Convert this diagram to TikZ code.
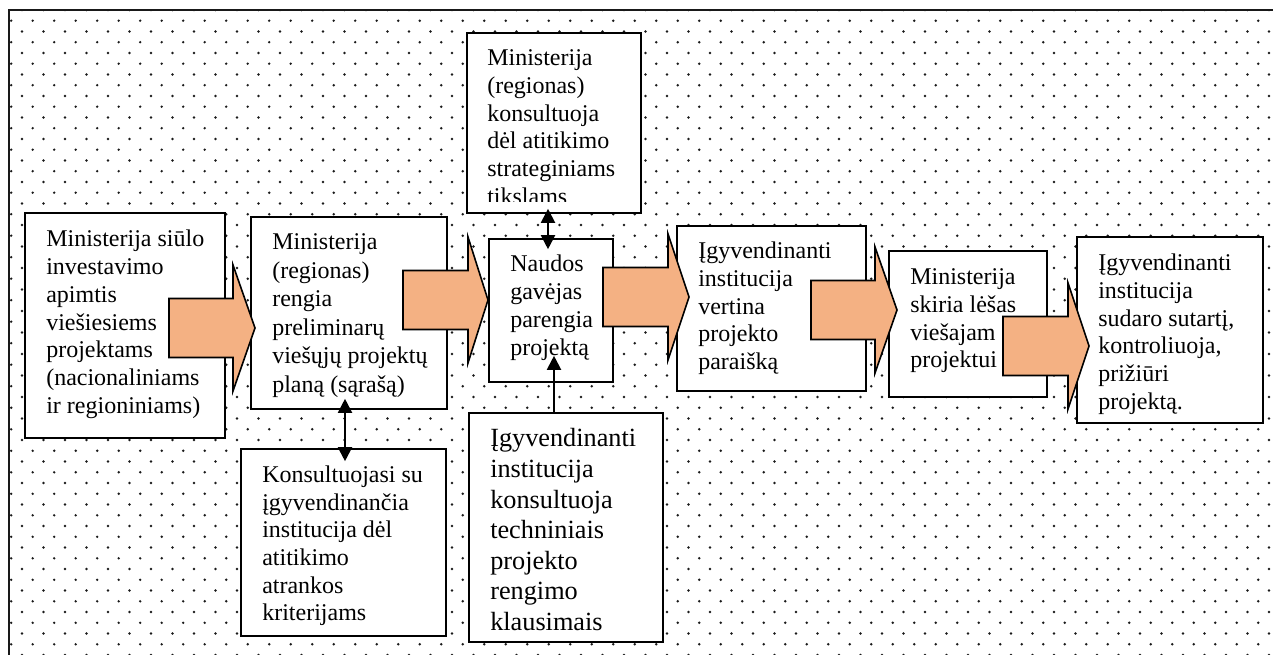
\documentclass[tikz,border=0pt]{standalone}
\usepackage{fontspec}
\setmainfont{Liberation Serif}
\usetikzlibrary{arrows.meta,fit}
\definecolor{peach}{RGB}{244,177,131}
\tikzset{
  box/.style={draw=black, fill=white, line width=1.2pt, inner sep=0pt},
  txt/.style={anchor=north west, inner sep=0pt, align=left, font=\fontsize{18pt}{20.8pt}\selectfont},
  txtwide/.style={txt, font=\fontsize{18pt}{21.4pt}\selectfont},
  bigtxt/.style={txt, font=\fontsize{19.7pt}{22.9pt}\selectfont},
  barrow/.style={draw=black, fill=peach, line width=1.2pt, line join=miter},
  link/.style={line width=1.5pt, -{Triangle[length=10.5pt,width=10.5pt]}},
  dlink/.style={line width=1.5pt, {Triangle[length=10.5pt,width=10.5pt]}-{Triangle[length=10.5pt,width=10.5pt]}},
  dots/.style={fill=black!90},
  frame/.style={line width=1.5pt, draw=black!90},
}
\newcommand{\st}{\rule{0pt}{0.75em}}
\newcommand{\blockarr}[4]{%
  \draw[barrow] (#1,#4-29.5) -- (#2,#4-29.5) -- (#2,#4-63) -- (#3,#4)
    -- (#2,#4+63) -- (#2,#4+29.5) -- (#1,#4+29.5) -- cycle;}
\begin{document}
\begin{tikzpicture}[x=0.75pt,y=-0.75pt]
\useasboundingbox (0,0) rectangle (1273,655);
% dotted background
\begin{scope}
  \clip (9,10) rectangle (1273,655);
  \foreach \j in {0,...,60} {
    \pgfmathsetmacro{\xo}{0.5+10.7*mod(\j,2)}
    \pgfmathsetmacro{\yy}{10+10.75*\j}
    \fill[dots] \foreach \i in {0,...,59} {
        ({\xo+21.5*\i},\yy) circle (1.3)
      };
  }
\end{scope}
\draw[frame] (1274,10) -- (9,10) -- (9,656);

% boxes
\node[box, fit={(25,213) (225,438)}] (A) {};
\node[txt] (At) at (46,228.7) {\st Ministerija siūlo\\investavimo\\apimtis\\viešiesiems\\projektams\\(nacionaliniams\\ir regioniniams)};

\node[box, fit={(251,217) (447,409)}] (B) {};
\node[txtwide] (Bt) at (272,231.5) {\st Ministerija\\(regionas)\\rengia\\preliminarų\\viešųjų projektų\\planą (sąrašą)};

\node[box, fit={(467,33) (641,213)}] (D) {};
\begin{scope}
  \clip (467,33) rectangle (641,202);
  \node[txt] (Dt) at (487,47.3) {\st Ministerija\\(regionas)\\konsultuoja\\dėl atitikimo\\strateginiams\\tikslams};
\end{scope}

\node[box, fit={(489,239) (613,382)}] (C) {};
\node[txt] (Ct) at (510,253.7) {\st Naudos\\gavėjas\\parengia\\projektą};

\node[box, fit={(677,226) (866,391)}] (E) {};
\node[txt] (Et) at (698,240.3) {\st Įgyvendinanti\\institucija\\vertina\\projekto\\paraišką};

\node[box, fit={(889,251) (1047,397)}] (F) {};
\node[txt] (Ft) at (910,266.5) {\st Ministerija\\skiria lėšas\\viešajam\\projektui};

\node[box, fit={(1077,237) (1263,423)}] (G) {};
\node[txt] (Gt) at (1098,252.5) {\st Įgyvendinanti\\institucija\\sudaro sutartį,\\kontroliuoja,\\prižiūri\\projektą.};

\node[box, fit={(241,449) (446,636)}] (H) {};
\node[txt] (Ht) at (262,464) {\st Konsultuojasi su\\įgyvendinančia\\institucija dėl\\atitikimo\\atrankos\\kriterijams};

\node[box, fit={(469,413) (663,642)}] (I) {};
\node[bigtxt] (It) at (490,427) {\st Įgyvendinanti\\institucija\\konsultuoja\\techniniais\\projekto\\rengimo\\klausimais};

% block arrows
\blockarr{169}{233}{255}{328}
\blockarr{403}{468}{488}{300}
\blockarr{603}{668}{689}{297}
\blockarr{811}{875}{897}{310}
\blockarr{1003}{1068}{1089}{346}

% thin connectors
\coordinate (dcx) at (548,0);
\coordinate (bhx) at (345,0);
\coordinate (icx) at (554,0);
\draw[dlink] ([yshift=3.75pt]D.south -| dcx) -- ([yshift=-8.25pt]C.north -| dcx);
\draw[dlink] ([yshift=8.25pt]B.south -| bhx) -- ([yshift=-9.75pt]H.north -| bhx);
\draw[link] (I.north -| icx) -- ([yshift=20.25pt]C.south -| icx);
\end{tikzpicture}
\end{document}
